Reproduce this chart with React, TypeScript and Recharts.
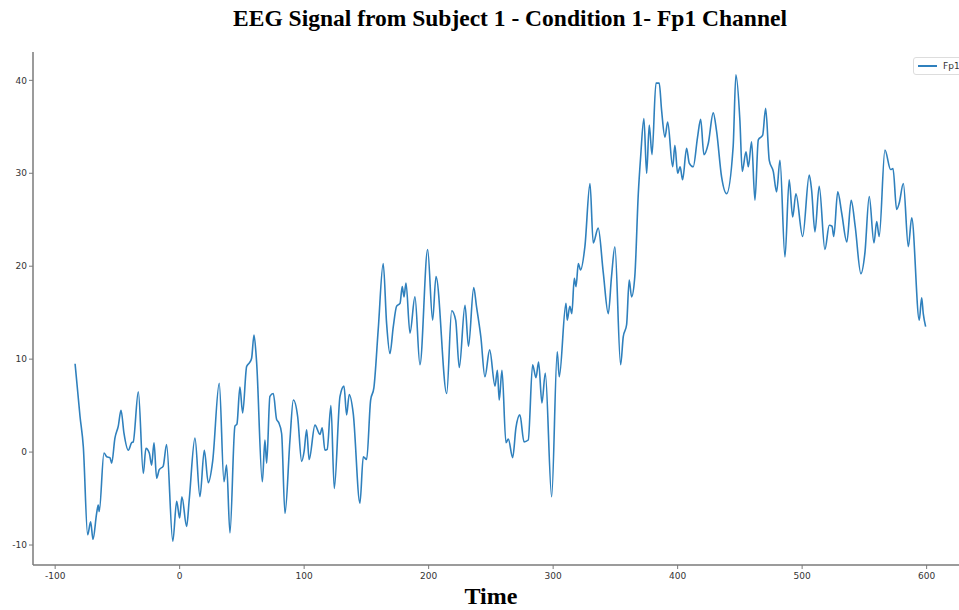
import { Line, LineChart, XAxis, YAxis } from "recharts";

// sample time (x) and Fp1 amplitude
const times = [
  -84, -80, -77.4, -73.9, -71.5, -69.6, -66.7, -65.4, -64.6, -60.8, -58.6, -56, -54.6, -52, -49.3,
  -47.1, -44.7, -41.3, -38.6, -37.3, -33.2, -29.2, -27.1, -24.4, -22.5, -20.6, -18.5, -16.4, -13.2,
  -10.5, -5.5, -2.4, 0, 1.8, 5.6, 7.7, 12.3, 16.3, 19.8, 23, 26.5, 31.8, 35.6, 37.7, 40.4, 44.4, 46,
  48.4, 50.6, 53.8, 56, 57.8, 59.7, 61.8, 66.4, 68.5, 69.9, 72.5, 75.2, 77.9, 79.5, 81.9, 84.6, 88.6,
  91.3, 94.8, 98, 100, 102, 104, 108.7, 112.7, 114.5, 116.7, 118.5, 121.5, 124.2, 128.8, 132, 134.1,
  136.2, 139.4, 144.8, 147.5, 150.2, 153.4, 156, 159.5, 163.5, 166.2, 168.9, 171.6, 174.3, 177, 178.8,
  180.2, 181.8, 185, 189, 193, 199.2, 203.2, 205.9, 214.5, 218.5, 221.7, 224.6, 229.2, 232, 236.2,
  238.4, 242, 245.2, 249, 253.3, 255.2, 256.7, 258.9, 262.1, 264, 267.5, 270.1, 273.3, 276.6, 280,
  283.5, 286.2, 288.3, 291, 293.7, 298.8, 303.3, 304.9, 310.3, 311.3, 313.4, 315, 317, 318.4, 320.2,
  322, 325.5, 329.6, 332.2, 336.2, 340.2, 344.3, 346.9, 349.6, 354.2, 356.3, 359, 361.1, 363, 365.6,
  368.4, 370.3, 372.9, 375.1, 377.2, 379.4, 382.6, 385.2, 387.1, 389.8, 392, 396, 397.8, 400, 402, 404,
  407.2, 409.3, 412.5, 416, 418.5, 421.1, 424.6, 428.6, 431.3, 435.3, 439.3, 444.6, 446.8, 450, 451.9,
  454.9, 456.8, 459.4, 462.1, 464.8, 468.3, 470.7, 473.6, 476.8, 479.5, 482.2, 486.2, 489.6, 492.4,
  495, 500.4, 505.7, 507.6, 510.3, 513.7, 518.3, 521.8, 524, 525.4, 528.6, 531.8, 535.9, 539.4, 542.6,
  547.2, 550.4, 553.9, 557.7, 559.9, 561.9, 566.5, 571.1, 573, 575.9, 578, 581.3, 585.3, 588, 594.1,
  596, 597.3, 599.2,
];

const fp1 = [
  9.5, 3.8, 0.6, -8.9, -7.5, -9.4, -6.6, -5.7, -6.4, -0.1, -0.5, -0.6, -1.2, 1.5, 2.8,
  4.5, 2.0, 0.2, 1.0, 1.1, 6.5, -2.3, 0.4, -0.1, -1.4, 1.0, -2.8, -1.9, -1.5,
  0.8, -9.6, -5.3, -7.1, -4.8, -8.0, -5.1, 1.5, -4.8, 0.2, -3.3, -1.0, 7.4, -3.2, -1.4, -8.7, 2.8, 3.0,
  7.0, 4.2, 9.2, 9.6, 10.1, 12.6, 9.7, -3.2, 1.3, -1.2, 6.0, 6.3, 3.5, 3.2, 2.0, -6.6, 1.3,
  5.6, 3.8, -1.0, 0.1, 2.4, -0.8, 2.9, 1.9, 2.6, 0.2, 0.3, 5.0, -3.9, 6.0, 7.1, 4.0,
  6.2, 4.2, -5.5, -0.5, -0.8, 5.6, 6.9, 13.2, 20.3, 13.9, 10.6, 13.5, 15.7, 16.0, 17.8,
  16.7, 18.2, 12.8, 16.7, 9.4, 21.8, 14.2, 18.9, 6.3, 15.2, 14.2, 9.1, 15.8, 11.4, 17.7,
  15.7, 12.3, 8.1, 11.0, 7.1, 8.8, 5.6, 8.8, 1.0, 1.4, -0.6, 2.6, 4.0, 1.1, 1.3,
  9.4, 8.0, 9.7, 5.3, 8.5, -4.8, 10.8, 8.1, 16.0, 14.2, 15.7, 14.9, 18.7, 17.8, 20.3,
  19.6, 22.1, 28.9, 22.5, 24.1, 19.4, 14.9, 18.9, 22.1, 9.4, 12.4, 13.7, 18.5, 16.7, 18.9,
  27.8, 31.8, 35.9, 30.0, 35.2, 32.0, 39.7, 39.7, 36.8, 33.9, 35.5, 30.7, 33.0, 30.0, 30.7, 29.3,
  32.7, 31.1, 30.7, 33.9, 35.8, 32.0, 33.2, 36.5, 34.5, 29.6, 27.8, 32.9, 40.6, 35.7, 30.2,
  32.3, 30.7, 33.4, 27.1, 33.6, 34.1, 37.0, 31.4, 30.2, 28.0, 31.4, 21.0, 29.3, 25.3,
  27.8, 23.2, 29.8, 28.2, 23.7, 28.6, 21.8, 24.4, 24.3, 23.2, 28.0, 25.7, 22.6, 27.1, 24.3,
  19.2, 21.4, 27.5, 22.5, 24.8, 23.2, 32.5, 30.4, 30.5, 26.1, 26.8, 28.9, 22.1, 25.2, 14.2,
  16.6, 14.9, 13.5,
];

const xTicks = [-100, 0, 100, 200, 300, 400, 500, 600];
const yTicks = [-10, 0, 10, 20, 30, 40];

const data = times.map((t, i) => ({ time: t, Fp1: fp1[i] }));

const LINE_COLOR = "#2f80bd";
const FRAME_COLOR = "#7a7a7a";
const tickStyle = { fill: "#333", fontSize: 9, fontFamily: "DejaVu Sans, sans-serif" };

function FpLegend() {
  return (
    <div
      style={{
        position: "absolute",
        top: 57,
        left: 913,
        display: "flex",
        alignItems: "center",
        gap: 6,
        padding: "3px 10px 3px 4px",
        border: "1px solid #ddd",
        borderRadius: 3,
        background: "#fff",
        fontFamily: "DejaVu Sans, sans-serif",
        fontSize: 9,
        color: "#333",
      }}
    >
      <span style={{ width: 19, height: 2, background: LINE_COLOR, display: "inline-block" }} />
      <span>Fp1</span>
    </div>
  );
}

export default function App() {
  return (
    <div style={{ position: "absolute", left: 0, top: 0, width: 959, height: 610, background: "#fff", overflow: "hidden" }}>
      <div
        style={{
          position: "absolute",
          top: 5,
          left: 0,
          width: 1020,
          textAlign: "center",
          fontFamily: "Liberation Serif, serif",
          fontWeight: "bold",
          fontSize: 23.5,
          color: "#000",
        }}
      >
        EEG Signal from Subject 1 - Condition 1- Fp1 Channel
      </div>
      <LineChart width={959} height={610} data={data} margin={{ top: 52, right: 0, left: 0, bottom: 0 }}>
        <XAxis
          dataKey="time"
          type="number"
          domain={[-117.8, 626]}
          allowDataOverflow
          ticks={xTicks}
          height={45}
          tick={tickStyle}
          tickSize={4}
          tickMargin={4}
          tickLine={{ stroke: FRAME_COLOR }}
          axisLine={{ stroke: FRAME_COLOR, strokeWidth: 1.5 }}
        />
        <XAxis
          xAxisId="top"
          orientation="top"
          dataKey="time"
          type="number"
          domain={[-117.8, 626]}
          height={0}
          tick={false}
          tickLine={false}
          axisLine={{ stroke: FRAME_COLOR, strokeWidth: 1.5 }}
        />
        <YAxis
          type="number"
          domain={[-12.15, 43.05]}
          allowDataOverflow
          ticks={yTicks}
          width={33}
          tick={tickStyle}
          tickSize={4}
          tickLine={{ stroke: FRAME_COLOR }}
          axisLine={{ stroke: FRAME_COLOR, strokeWidth: 1.5 }}
        />
        <Line
          type="monotone"
          dataKey="Fp1"
          stroke={LINE_COLOR}
          strokeWidth={1.6}
          dot={false}
          isAnimationActive={false}
        />
      </LineChart>
      <FpLegend />
      <div
        style={{
          position: "absolute",
          top: 583,
          left: 441,
          width: 100,
          textAlign: "center",
          fontFamily: "Liberation Serif, serif",
          fontWeight: "bold",
          fontSize: 24,
          lineHeight: "26px",
          color: "#000",
        }}
      >
        Time
      </div>
    </div>
  );
}
